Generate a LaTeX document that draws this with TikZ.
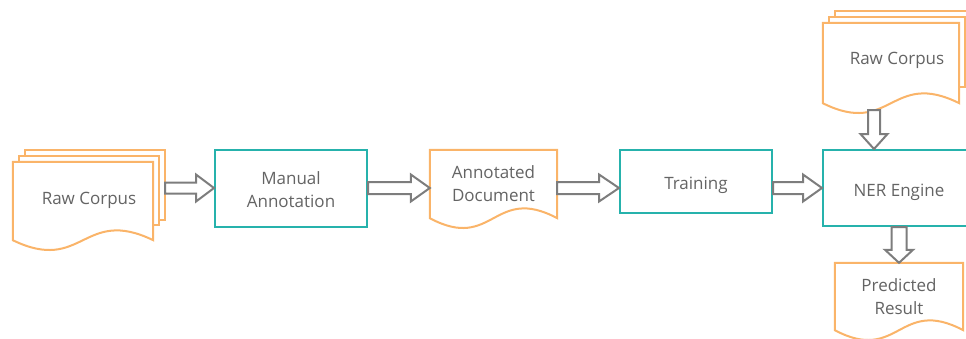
\documentclass[tikz,border=0pt]{standalone}
\usepackage{fontspec}
\setmainfont{Open Sans}
\usetikzlibrary{calc}
\pgfdeclarelayer{bg}
\pgfsetlayers{bg,main}
\definecolor{docorange}{RGB}{250,180,105}
\definecolor{procteal}{RGB}{38,178,172}
\definecolor{arrgray}{RGB}{125,125,125}
\definecolor{txtgray}{RGB}{100,100,100}
\newcommand\lowered[2]{\raisebox{-#1}[\height][\depth]{#2}}
% horizontal block arrow: from, to, half shaft, half head, head length
\newcommand\harrow[5]{%
  \draw[blk] let \p1=#1, \p2=#2 in
    (\x1,\y1+#3pt) -- (\x2-#5pt,\y1+#3pt) -- (\x2-#5pt,\y1+#4pt) -- (\x2,\y1)
    -- (\x2-#5pt,\y1-#4pt) -- (\x2-#5pt,\y1-#3pt) -- (\x1,\y1-#3pt) -- cycle;}
% vertical block arrow (downwards)
\newcommand\varrow[5]{%
  \draw[blk] let \p1=#1, \p2=#2 in
    (\x1-#3pt,\y1) -- (\x1-#3pt,\y2+#5pt) -- (\x1-#4pt,\y2+#5pt) -- (\x1,\y2)
    -- (\x1+#4pt,\y2+#5pt) -- (\x1+#3pt,\y2+#5pt) -- (\x1+#3pt,\y1) -- cycle;}
% document shape: top-left, bottom-right (right end of wave), wave control
\newcommand\docpath[3]{%
  \draw[docline] let \p1=#1, \p2=#2 in
    (\x1,\y1) -- (\x2,\y1) -- (\x2,\y2)
    .. controls ({(\x1+\x2)/2},{\y2+#3pt}) and ({(\x1+\x2)/2},{\y2-#3pt}) .. (\x1,\y2)
    -- cycle;}
\begin{document}
\begin{tikzpicture}[x=1pt,y=-1pt,
  every node/.style={font=\fontsize{17}{23}\selectfont, text=txtgray, align=center, inner sep=0pt},
  process/.style={draw=procteal, line width=2pt, fill=white},
  docline/.style={draw=docorange, line width=2pt, fill=white, line join=miter},
  blk/.style={draw=arrgray, line width=2pt, fill=white, line join=miter}]
\useasboundingbox (0,0) rectangle (966,338);

% nodes
\node[minimum width=152pt, minimum height=90pt] (rc1) at (89,195) {\lowered{5pt}{Raw Corpus}};
\node[process, minimum width=152pt, minimum height=77pt] (ma) at (291,188.5) {\lowered{1.5pt}{Manual}\\\lowered{1.5pt}{Annotation}};
\node[minimum width=127pt, minimum height=68pt] (ad) at (493.5,184) {Annotated\\Document};
\node[process, minimum width=152pt, minimum height=63pt] (tr) at (696,181.5) {\lowered{4pt}{Training}};
\node[process, minimum width=152pt, minimum height=76pt] (ner) at (899,188) {\lowered{4pt}{NER Engine}};
\node[minimum width=148pt, minimum height=92pt] (rc2) at (897,57) {\lowered{3pt}{Raw Corpus}};
\node[minimum width=128pt, minimum height=67pt] (pr) at (899,296.5) {Predicted\\Result};

% document shapes
\begin{pgfonlayer}{bg}
  \draw[docline] ($(rc1.north west)+(12,0)$) rectangle ($(rc1.north east)+(0,70)$);
  \draw[docline] ($(rc1.north west)+(6,6)$) rectangle ($(rc1.north east)+(-6,75)$);
  \docpath{($(rc1.north west)+(0,12)$)}{($(rc1.south east)+(-12,0)$)}{34}
  \draw[docline] ($(rc2.north west)+(12,0)$) rectangle ($(rc2.north east)+(0,69)$);
  \draw[docline] ($(rc2.north west)+(6,6)$) rectangle ($(rc2.north east)+(-6,76)$);
  \docpath{($(rc2.north west)+(0,12)$)}{($(rc2.south east)+(-12,0)$)}{34}
  \docpath{(ad.north west)}{(ad.south east)}{34}
  \docpath{(pr.north west)}{(pr.south east)}{34}
\end{pgfonlayer}

% connectors
\coordinate (ay) at (0,188);
\harrow{(rc1.east |- ay)}{(ma.west |- ay)}{5.5}{13.5}{18}
\harrow{(ma.east |- ay)}{(ad.west |- ay)}{6}{13.5}{19}
\harrow{(ad.east |- ay)}{(tr.west |- ay)}{6}{13.5}{20}
\harrow{(tr.east |- ay)}{(ner.west |- ay)}{6}{13.5}{19}
\coordinate (dtop) at (874,110);
\varrow{(dtop)}{(dtop |- ner.north)}{6}{13.5}{15}
\varrow{(ner.south)}{(pr.north)}{7.5}{14}{13}
\end{tikzpicture}
\end{document}
